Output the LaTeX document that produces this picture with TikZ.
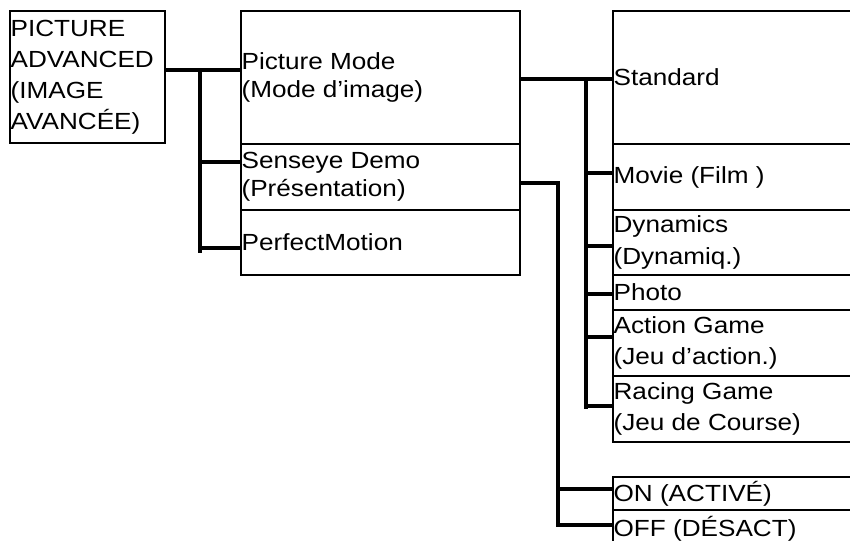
\documentclass[tikz,border=0pt]{standalone}
\usepackage{fontspec}
\setmainfont{Liberation Sans}[FakeStretch=1.12]
\usetikzlibrary{fit}
\begin{document}
\begin{tikzpicture}[x=0.75pt,y=-0.75pt,
  bx/.style={draw=black, line width=1.5pt, rectangle, inner sep=0pt},
  txt/.style={anchor=west, inner xsep=1pt, inner ysep=0pt, align=left, text=black,
    font=\fontsize{17.5}{23.3}\selectfont},
  txtm/.style={txt, font=\fontsize{17.5}{20.6}\selectfont},
  conn/.style={draw=black, line width=2.5pt}]
\useasboundingbox (0,0) rectangle (850,541);
% boxes
\node[bx, fit={(10,11) (165,143)}] (adv) {};
\node[bx, fit={(241,11) (520,144)}] (pm) {};
\node[bx, fit={(241,144) (520,210)}] (sd) {};
\node[bx, fit={(241,210) (520,275)}] (pf) {};
\node[bx, fit={(613,11) (860,144)}] (st) {};
\node[bx, fit={(613,144) (860,210)}] (mv) {};
\node[bx, fit={(613,210) (860,275)}] (dy) {};
\node[bx, fit={(613,275) (860,310)}] (ph) {};
\node[bx, fit={(613,310) (860,376)}] (ac) {};
\node[bx, fit={(613,376) (860,442)}] (rc) {};
\node[bx, fit={(613,477) (860,510)}] (on) {};
\node[bx, fit={(613,510) (860,548)}] (off) {};
% texts
\node[txt] (advt) at (adv.west) {PICTURE\\ADVANCED\\(IMAGE\\AVANCÉE)};
\node[txtm] (pmt) at (pm.west) {Picture Mode\\(Mode d’image)};
\node[txtm] (sdt) at (sd.west) {Senseye Demo\\(Présentation)};
\node[txtm] (pft) at (pf.west) {PerfectMotion};
\node[txt] (stt) at (st.west) {Standard};
\node[txt] (mvt) at (mv.west) {Movie (Film )};
\node[txt] (dyt) at (dy.west) {Dynamics\\(Dynamiq.)};
\node[txt] (pht) at (ph.west) {Photo};
\node[txt] (act) at (ac.west) {Action Game\\(Jeu d’action.)};
\node[txt] (rct) at (rc.west) {Racing Game\\(Jeu de Course)};
\node[txt] (ont) at (on.west) {ON (ACTIVÉ)};
\node[txt] (offt) at (off.west) {OFF (DÉSACT)};
% junction coordinates
\coordinate (a0) at (200,70);
\coordinate (a1) at (200,162);
\coordinate (a2) at (200,248);
\coordinate (a3) at (200,253);
\coordinate (b0) at (586,79);
\coordinate (b1) at (586,173);
\coordinate (b2) at (586,246);
\coordinate (b3) at (586,294);
\coordinate (b4) at (586,337);
\coordinate (b5) at (586,406);
\coordinate (b6) at (586,409);
\coordinate (c0) at (558,183);
\coordinate (c1) at (558,489);
\coordinate (c2) at (558,525);
% connectors
\draw[conn] (adv.east |- a0) -- (pm.west |- a0);
\draw[conn] (a0) -- (a3);
\draw[conn] (a1) -- (a1 -| sd.west);
\draw[conn] (a2) -- (a2 -| pf.west);
\draw[conn] (pm.east |- b0) -- (st.west |- b0);
\draw[conn] (b0) -- (b6);
\draw[conn] (b1) -- (b1 -| mv.west);
\draw[conn] (b2) -- (b2 -| dy.west);
\draw[conn] (b3) -- (b3 -| ph.west);
\draw[conn] (b4) -- (b4 -| ac.west);
\draw[conn] (b5) -- (b5 -| rc.west);
\draw[conn] (sd.east |- c0) -- (c0) -- (c2) -- (c2 -| off.west);
\draw[conn] (c1) -- (c1 -| on.west);
\end{tikzpicture}
\end{document}
